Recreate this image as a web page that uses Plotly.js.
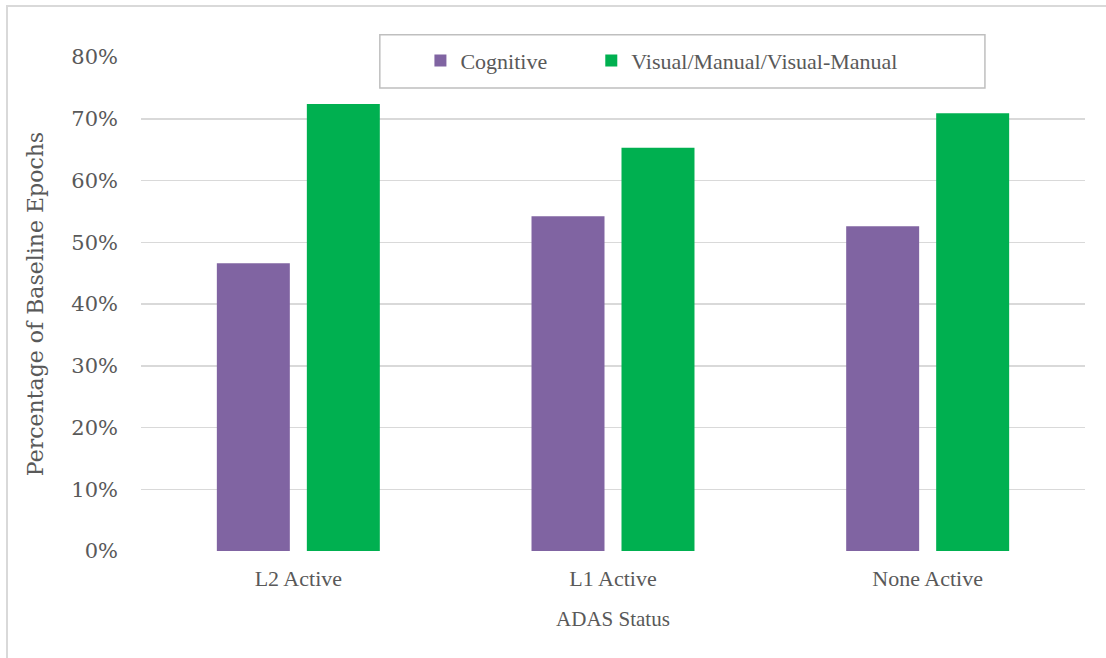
<!DOCTYPE html>
<html>
<head>
<meta charset="utf-8">
<script src="https://cdn.plot.ly/plotly-3.0.1.min.js"></script>
<style>
html,body{margin:0;padding:0;background:#fff;overflow:hidden;}
#wrap{position:absolute;left:6px;top:5px;width:1200px;height:700px;border-left:2px solid #d9d9d9;border-top:2px solid #d9d9d9;box-sizing:border-box;}
#chart{position:absolute;left:0;top:0;width:1106px;height:658px;}
</style>
</head>
<body>
<div id="wrap"></div>
<div id="chart"></div>
<script>
const categories = ["L2 Active", "L1 Active", "None Active"];
const cognitive = [0.466, 0.542, 0.526];
const visualManual = [0.724, 0.653, 0.709];
const seriesNames = ["Cognitive", "Visual/Manual/Visual-Manual"];
const yTicks = [0, 0.1, 0.2, 0.3, 0.4, 0.5, 0.6, 0.7, 0.8];
const yTickLabels = ["0%", "10%", "20%", "30%", "40%", "50%", "60%", "70%", "80%"];

const NARROW = "Liberation Serif, serif";
const WIDE = "DejaVu Serif, serif";
const GRAY = "#595959";

const data = [
  {type: "bar", name: seriesNames[0], x: categories, y: cognitive,
   marker: {color: "#8064a2"}, hoverinfo: "skip", legend: "legend"},
  {type: "bar", name: seriesNames[1], x: categories, y: visualManual,
   marker: {color: "#00b050"}, hoverinfo: "skip", legend: "legend2"}
];

const legendCommon = {
  orientation: "h", xanchor: "left", y: 1.035, yanchor: "top",
  bgcolor: "rgba(0,0,0,0)", borderwidth: 0,
  font: {family: NARROW, size: 22, color: GRAY}
};

const layout = {
  width: 1106, height: 658,
  paper_bgcolor: "rgba(0,0,0,0)", plot_bgcolor: "rgba(0,0,0,0)",
  margin: {l: 141, r: 21, t: 57, b: 107},
  font: {family: NARROW, color: GRAY, size: 21},
  barmode: "group", bargap: 0.428, bargroupgap: 0.189,
  xaxis: {
    showgrid: false, showline: false, ticks: "", zeroline: false,
    ticklabelstandoff: 12,
    tickfont: {family: NARROW, size: 22, color: GRAY},
    title: {text: "ADAS Status", font: {family: NARROW, size: 21, color: GRAY}, standoff: 21}
  },
  yaxis: {
    range: [0, 0.8], tickvals: yTicks, ticktext: yTickLabels,
    showgrid: true, gridcolor: "#d9d9d9", gridwidth: 1.5,
    zeroline: false, showline: false, ticks: "",
    ticklabelstandoff: 22,
    tickfont: {family: WIDE, size: 21, color: GRAY},
    title: {text: "Percentage of Baseline Epochs", font: {family: WIDE, size: 22, color: GRAY}, standoff: 21}
  },
  showlegend: true,
  legend: Object.assign({}, legendCommon, {x: 0.296}),
  legend2: Object.assign({}, legendCommon, {x: 0.477}),
  shapes: [
    {type: "rect", xref: "paper", yref: "paper", x0: 0.253, x1: 0.894, y0: 0.937, y1: 1.045,
     line: {color: "#bfbfbf", width: 1.5}, fillcolor: "#ffffff", layer: "above"}
  ]
};

Plotly.newPlot("chart", data, layout, {displayModeBar: false, staticPlot: true});
</script>
</body>
</html>
